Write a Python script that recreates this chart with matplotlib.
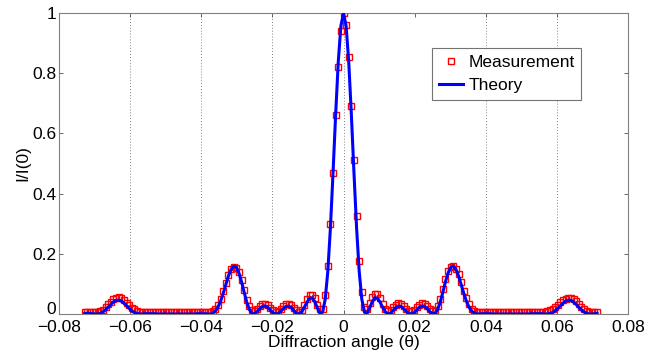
import numpy as np
import matplotlib
matplotlib.use("Agg")
import matplotlib.pyplot as plt
from matplotlib.transforms import ScaledTranslation

# ---- data ----
angle_start = -0.07277
angle_stop = 0.07130
n_samples = 197

# values at sample index k = -99 ... 97
theory_left = [  # k = -99 ... -1
    0.002, 0.003, 0.002, 0.001, 0.000, 0.000, 0.002, 0.007, 0.014, 0.023,
    0.032, 0.040, 0.045, 0.046, 0.043, 0.036, 0.028, 0.019, 0.011, 0.005,
    0.002, 0.000, 0.000, 0.001, 0.001, 0.001, 0.001, 0.001, 0.000, 0.000,
    0.000, 0.000, 0.000, 0.000, 0.000, 0.000, 0.000, 0.000, 0.000, 0.000,
    0.000, 0.000, 0.000, 0.001, 0.001, 0.001, 0.001, 0.000, 0.000,
    0.003, 0.010, 0.023, 0.043, 0.069, 0.098, 0.127, 0.148, 0.159, 0.155,
    0.136, 0.107, 0.072, 0.039, 0.015, 0.002, 0.001, 0.008, 0.018, 0.025,
    0.027, 0.022, 0.013, 0.004, 0.000, 0.002, 0.009, 0.018, 0.025, 0.026,
    0.021, 0.012, 0.003, 0.000, 0.007, 0.022, 0.039, 0.052, 0.054, 0.041,
    0.020, 0.002, 0.006, 0.049, 0.142, 0.287, 0.470, 0.664, 0.838, 0.957,
]
theory_right = [  # k = 0 ... 97
    1.000, 0.957, 0.838, 0.664, 0.470, 0.287, 0.142, 0.049, 0.006, 0.002,
    0.020, 0.041, 0.054, 0.052, 0.039, 0.022, 0.007, 0.000, 0.003, 0.012,
    0.021, 0.026, 0.025, 0.018, 0.009, 0.002, 0.000, 0.004, 0.013, 0.022,
    0.027, 0.025, 0.018, 0.008, 0.001, 0.002, 0.015, 0.039, 0.072, 0.107,
    0.136, 0.155, 0.159, 0.148, 0.127, 0.098, 0.069, 0.043, 0.023, 0.010,
    0.003, 0.000, 0.000, 0.001, 0.001, 0.001, 0.001, 0.000, 0.000, 0.000,
    0.000, 0.000, 0.000, 0.000, 0.000, 0.000, 0.000, 0.000, 0.000, 0.000,
    0.000, 0.000, 0.001, 0.001, 0.001, 0.001, 0.001, 0.000, 0.000, 0.002,
    0.005, 0.011, 0.019, 0.028, 0.036, 0.043, 0.046, 0.045, 0.040, 0.032,
    0.023, 0.014, 0.007, 0.002, 0.000, 0.000, 0.001, 0.002,
]
measured_left = [  # k = -99 ... -1
    0.007, 0.008, 0.008, 0.007, 0.006, 0.007, 0.009, 0.014, 0.022, 0.032,
    0.041, 0.049, 0.054, 0.055, 0.052, 0.046, 0.038, 0.029, 0.021, 0.015,
    0.011, 0.008, 0.007, 0.006, 0.007, 0.006, 0.005, 0.006, 0.006, 0.005,
    0.006, 0.007, 0.006, 0.005, 0.006, 0.006, 0.005, 0.006, 0.007, 0.006,
    0.005, 0.006, 0.006, 0.007, 0.006, 0.005, 0.006, 0.007, 0.006, 0.010,
    0.017, 0.030, 0.050, 0.076, 0.104, 0.131, 0.149, 0.157, 0.154, 0.140,
    0.113, 0.080, 0.048, 0.025, 0.012, 0.009, 0.015, 0.025, 0.032, 0.034,
    0.030, 0.021, 0.012, 0.008, 0.010, 0.016, 0.025, 0.033, 0.034, 0.030,
    0.021, 0.012, 0.008, 0.014, 0.030, 0.050, 0.063, 0.062, 0.052, 0.030,
    0.015, 0.018, 0.063, 0.160, 0.300, 0.470, 0.660, 0.820, 0.940,
]
measured_right = [  # k = 0 ... 97
    1.000, 0.960, 0.855, 0.690, 0.510, 0.325, 0.175, 0.073, 0.022, 0.018,
    0.035, 0.058, 0.068, 0.066, 0.052, 0.032, 0.016, 0.010, 0.012, 0.022,
    0.030, 0.035, 0.034, 0.027, 0.018, 0.011, 0.009, 0.013, 0.022, 0.031,
    0.035, 0.033, 0.026, 0.016, 0.010, 0.013, 0.026, 0.050, 0.083, 0.116,
    0.143, 0.156, 0.158, 0.150, 0.133, 0.106, 0.078, 0.052, 0.032, 0.018,
    0.011, 0.008, 0.007, 0.006, 0.007, 0.006, 0.005, 0.006, 0.007, 0.006,
    0.005, 0.006, 0.006, 0.005, 0.006, 0.007, 0.006, 0.005, 0.006, 0.006,
    0.007, 0.006, 0.005, 0.006, 0.007, 0.006, 0.006, 0.007, 0.009, 0.012,
    0.016, 0.022, 0.030, 0.039, 0.047, 0.051, 0.053, 0.052, 0.050, 0.042,
    0.033, 0.023, 0.015, 0.010, 0.008, 0.007, 0.006, 0.007,
]
x_ticks = [-0.08, -0.06, -0.04, -0.02, 0, 0.02, 0.04, 0.06, 0.08]
x_tick_labels = ["\u22120.08", "\u22120.06", "\u22120.04", "\u22120.02", "0",
                 "0.02", "0.04", "0.06", "0.08"]
y_ticks = [0, 0.2, 0.4, 0.6, 0.8, 1]
y_tick_labels = ["0", "0.2", "0.4", "0.6", "0.8", "1"]
grid_positions = [-0.06, -0.04, -0.02, 0, 0.04, 0.06]

angle = np.linspace(angle_start, angle_stop, n_samples)
theory = np.array(theory_left + theory_right)
measured = np.array(measured_left + measured_right)

# ---- figure ----
plt.rcParams['font.family'] = ['Liberation Sans', 'DejaVu Sans']
fig = plt.figure(figsize=(6.59, 3.56), dpi=100)
ax = fig.add_axes([0.0895, 0.118, 0.8635, 0.8455])

for gx in grid_positions:
    ax.axvline(gx, color='0.35', lw=0.6, ls=(0, (1, 2.5)), zorder=0)

ax.plot(angle, measured, ls='none', marker='s', ms=4.2, mfc='none',
        mec='#ff0000', mew=1.0, label='Measurement', zorder=2)
ax.plot(angle, theory, color='#0000ff', lw=2.2, label='Theory', zorder=3)

ax.set_xlim(-0.08, 0.08)
ax.set_ylim(0, 1)
ax.set_xticks(x_ticks)
ax.set_xticklabels(x_tick_labels)
ax.set_yticks(y_ticks)
ax.set_yticklabels(y_tick_labels)
ax.tick_params(direction='in', length=3, width=0.6, color='0.3',
               labelsize=12.5, top=True, right=True)
ax.tick_params(axis='x', pad=4)
ax.tick_params(axis='y', pad=2)
for s in ax.spines.values():
    s.set_color('0.5')
    s.set_linewidth(0.8)

# nudge the y "0" label up a little so it does not collide with "-0.08"
zero_lab = ax.get_yticklabels()[0]
zero_lab.set_transform(zero_lab.get_transform() +
                       ScaledTranslation(0, 4 / 72, fig.dpi_scale_trans))

ax.set_xlabel('Diffraction angle (\u03b8)', fontsize=12.5, labelpad=0)
ax.set_ylabel('I/I(0)', fontsize=12.5, labelpad=1)

leg = ax.legend(loc='upper left', bbox_to_anchor=(0.655, 0.885), fontsize=12.5,
                frameon=True, fancybox=False, edgecolor='0.45', framealpha=1,
                borderpad=0.4, labelspacing=0.45, handlelength=1.4,
                handletextpad=0.3, borderaxespad=0)
leg.get_frame().set_linewidth(0.8)

fig.savefig('out.png', dpi=100)
